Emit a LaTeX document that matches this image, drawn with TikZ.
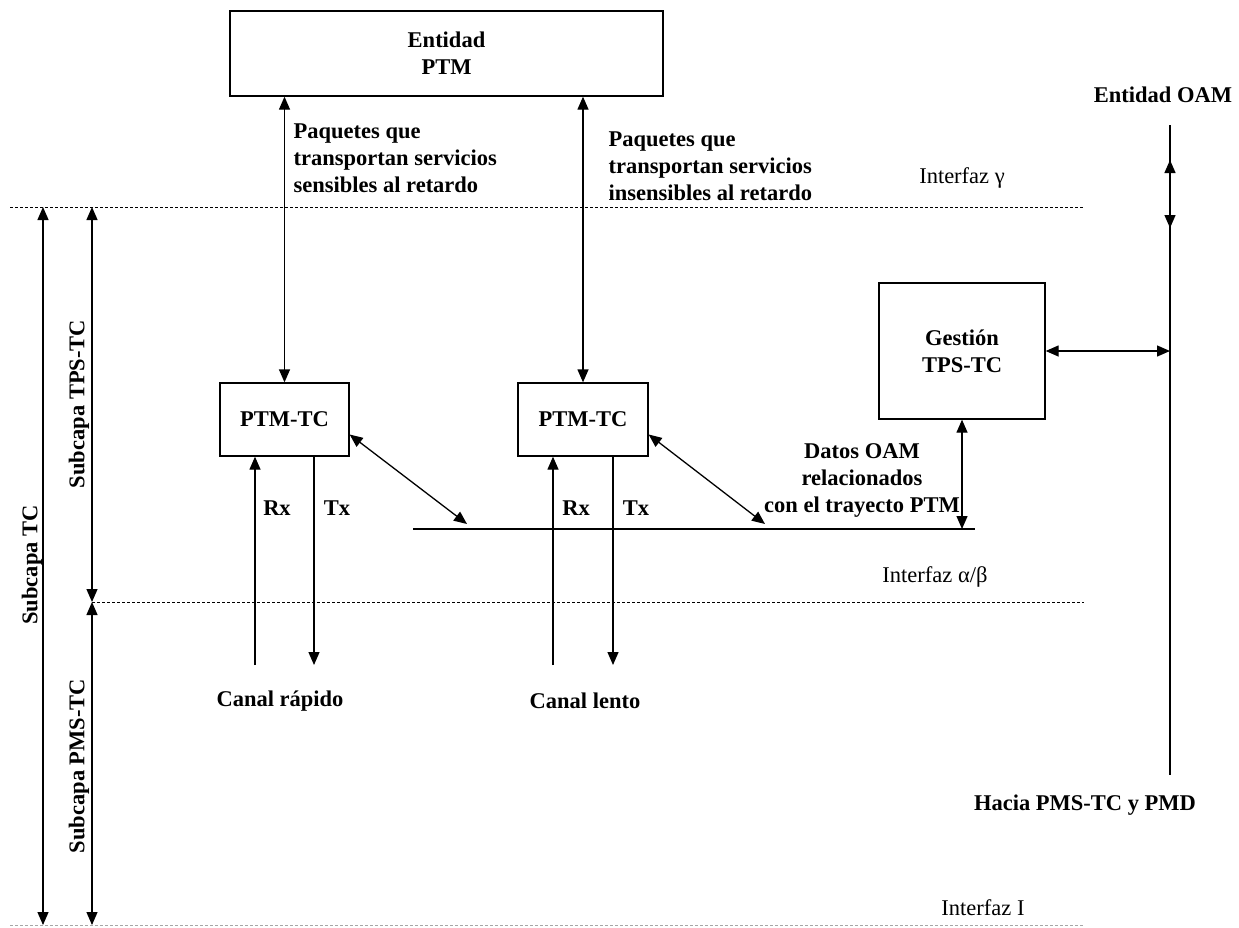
\documentclass[tikz,border=0pt]{standalone}
\usepackage{fontspec}
\setmainfont{Liberation Serif}
\usetikzlibrary{arrows.meta}
\begin{document}
\begin{tikzpicture}[x=1pt,y=-1pt,line width=1.3pt,
  every node/.style={font=\fontsize{22.5}{27}\selectfont\bfseries},
  box/.style={draw,rectangle,inner sep=0pt,align=center},
  lbl/.style={inner sep=0pt,align=left},
  reg/.style={inner sep=0pt,font=\fontsize{22.5}{27}\selectfont},
  tip/.style={-{Triangle[length=13pt,width=11pt]}},
  dbl/.style={{Triangle[length=13pt,width=11pt]}-{Triangle[length=13pt,width=11pt]}},
  ifline/.style={line width=0.9pt,dash pattern=on 3pt off 2pt}]
\useasboundingbox (0,0) rectangle (1239,927);
% boxes
\node[box,minimum width=433,minimum height=85] (ent) at (446.5,53.5) {Entidad\\PTM};
\node[box,minimum width=129,minimum height=73] (ptm1) at (284.5,419.5) {PTM-TC};
\node[box,minimum width=130,minimum height=73] (ptm2) at (583,419.5) {PTM-TC};
\node[box,minimum width=166,minimum height=136] (gest) at (962,351) {Gestión\\TPS-TC};
% coordinates
\coordinate (oamT) at (1170,125);
\coordinate (oamB) at (1170,775);
\coordinate (oamU) at (1170,160);
\coordinate (oamD) at (1170,228);
\coordinate (busL) at (413,529);
\coordinate (busR) at (975,529);
\coordinate (d1) at (467,524);
\coordinate (d2) at (765,524);
\coordinate (bot) at (0,665);
\coordinate (rx1) at (255,0);
\coordinate (tx1) at (314,0);
\coordinate (rx2) at (553,0);
\coordinate (tx2) at (613,0);
% interface lines
\coordinate (gL) at (10,207);  \coordinate (gR) at (1084,207);
\coordinate (abL) at (92,602); \coordinate (abR) at (1084,602);
\coordinate (iL) at (10,925);  \coordinate (iR) at (1083,925);
\draw[ifline] (gL) -- (gR);
\draw[ifline] (abL) -- (abR);
\draw[ifline,gray!70] (iL) -- (iR);
% left layer arrows
\coordinate (tcT) at (43,207); \coordinate (tcB) at (43,925);
\coordinate (tpT) at (92,207); \coordinate (tpB) at (92,602);
\coordinate (pmT) at (92,602); \coordinate (pmB) at (92,925);
\draw[dbl] (tcT) -- (tcB);
\draw[dbl] (tpT) -- (tpB);
\draw[dbl] (pmT) -- (pmB);
\node[rotate=90] (stc) at (32,565) {Subcapa TC};
\node[rotate=90] (stps) at (79,404) {Subcapa TPS-TC};
\node[rotate=90] (spms) at (79,766) {Subcapa PMS-TC};
% entity to PTM-TC
\draw[dbl] (ent.south -| ptm1.north) -- (ptm1.north);
\draw[dbl] (ent.south -| ptm2.north) -- (ptm2.north);
\node[lbl,anchor=west] (p1) at (293,158) {Paquetes que\\transportan servicios\\sensibles al retardo};
\node[lbl,anchor=west] (p2) at (608,166) {Paquetes que\\transportan servicios\\insensibles al retardo};
% Rx / Tx
\draw[tip] (bot -| rx1) -- (ptm1.south -| rx1);
\draw[tip] (ptm1.south -| tx1) -- (bot -| tx1);
\draw[tip] (bot -| rx2) -- (ptm2.south -| rx2);
\draw[tip] (ptm2.south -| tx2) -- (bot -| tx2);
\node (rxl1) at (277,508) {Rx};
\node (txl1) at (337,508) {Tx};
\node (rxl2) at (576,508) {Rx};
\node (txl2) at (636,508) {Tx};
\node (c1) at (280,701) {Canal rápido};
\node (c2) at (585,701) {Canal lento};
% bus
\draw (busL) -- (busR);
\draw[dbl] ([yshift=-15pt]ptm1.east) -- (d1);
\draw[dbl] ([yshift=-15pt]ptm2.east) -- (d2);
\draw[dbl] (gest.south) -- (gest.south |- busR);
\node[align=center] (datos) at (862,480) {Datos OAM\\relacionados\\con el trayecto PTM};
% OAM
\draw (oamT) -- (oamB);
\draw[dbl] (oamD) -- (oamU);
\draw[dbl] (gest.east) -- (gest.east -| oamT);
\node (eoam) at (1163,95) {Entidad OAM};
\node (hacia) at (1085,805) {Hacia PMS-TC y PMD};
% interface labels
\node[reg] (ig) at (962,178) {Interfaz γ};
\node[reg] (iab) at (935,577) {Interfaz α/β};
\node[reg] (ii) at (983,908) {Interfaz I};
\end{tikzpicture}
\end{document}
